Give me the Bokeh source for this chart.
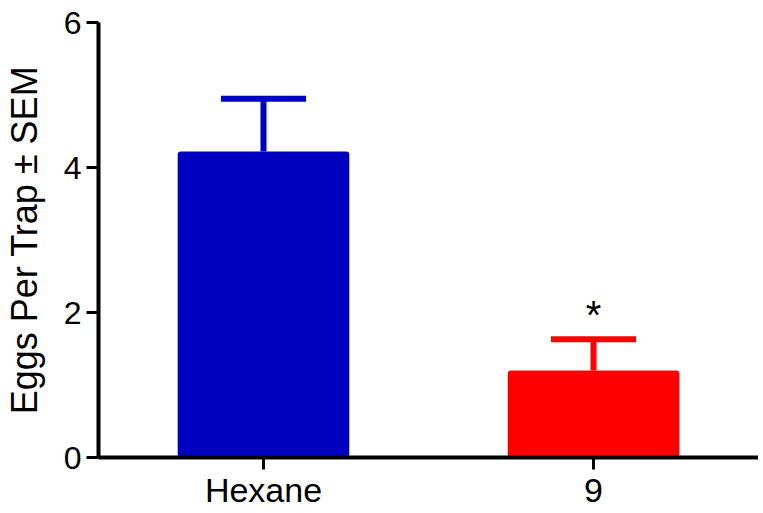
from bokeh.plotting import figure
from bokeh.models import Range1d, FixedTicker, ColumnDataSource
from bokeh.embed import file_html
from bokeh.resources import INLINE
from bokeh.core.properties import value

# ---- data ----
categories = ["Hexane", "9"]
means = [4.22, 1.20]
sems = [0.73, 0.43]
bar_colors = ["#0000C0", "#FF0000"]
significance = ["", "*"]
y_ticks = [0, 2, 4, 6]

FONT = "Liberation Sans"

xs = [i + 0.5 for i in range(len(categories))]
tops = [m + s for m, s in zip(means, sems)]

p = figure(
    frame_width=660, frame_height=435,
    x_range=Range1d(0, len(categories)), y_range=Range1d(0, 6),
    output_backend="svg", toolbar_location=None,
    min_border_left=87, min_border_right=0, min_border_top=22, min_border_bottom=40,
)
p.outline_line_color = None
p.xgrid.visible = False
p.ygrid.visible = False
p.background_fill_color = "white"

src = ColumnDataSource(dict(x=xs, top=means, color=bar_colors, err=tops,
                            x0=[x - 0.129 for x in xs], x1=[x + 0.129 for x in xs]))

p.vbar(x="x", top="top", bottom=0, width=0.52, fill_color="color", line_color=None,
       border_radius=3, source=src)
p.segment(x0="x", y0="top", x1="x", y1="err", line_color="color", line_width=6, source=src)
p.segment(x0="x0", y0="err", x1="x1", y1="err", line_color="color", line_width=6, source=src)

star_y = [t + 0.34 for t in tops]
p.text(x=xs, y=star_y, text=significance, text_align="center", text_baseline="middle",
       text_font=value(FONT), text_font_size="40px", text_color="black")

for ax in (p.xaxis[0], p.yaxis[0]):
    ax.axis_line_width = 4
    ax.axis_line_color = "black"
    ax.major_tick_line_width = 3
    ax.major_tick_line_color = "black"
    ax.major_tick_out = 12
    ax.major_tick_in = 0
    ax.minor_tick_line_color = None
    ax.major_label_text_font = FONT
    ax.major_label_text_color = "black"
    ax.axis_label_text_font = FONT
    ax.axis_label_text_font_style = "normal"
    ax.axis_label_text_color = "black"

p.xaxis.ticker = FixedTicker(ticks=xs)
p.xaxis.major_label_overrides = {x: c for x, c in zip(xs, categories)}
p.xaxis.major_label_standoff = 1
p.xaxis.major_label_text_font_size = "34px"

p.yaxis.ticker = FixedTicker(ticks=y_ticks)
p.yaxis.major_label_standoff = 5
p.yaxis.major_label_text_font_size = "32px"
p.yaxis.axis_label = "Eggs Per Trap ± SEM"
p.yaxis.axis_label_text_font_size = "36px"
p.yaxis.axis_label_standoff = 16

open("out.html", "w").write(file_html(p, INLINE))
